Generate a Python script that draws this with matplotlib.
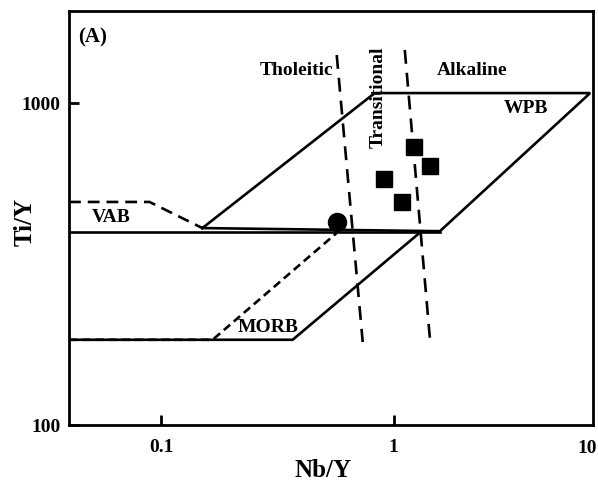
import matplotlib
matplotlib.use('Agg')
import matplotlib.pyplot as plt

plt.rcParams['font.family'] = ['Liberation Serif', 'DejaVu Serif']
plt.rcParams['font.weight'] = 'bold'
plt.rcParams['lines.scale_dashes'] = False

# ---- data (Nb/Y, Ti/Y) ----
wpb_x = [0.150, 1.58, 7.0, 0.828, 0.150]
wpb_y = [409, 400, 1074, 1074, 409]
base_x = [0.04, 1.58]
base_y = [397, 397]
vab_x = [0.04, 0.0888, 0.150]
vab_y = [493, 493, 409]
morb_x = [0.04, 0.367, 1.29]
morb_y = [184, 184, 395]
morb_dash_x = [0.04, 0.166, 0.568]
morb_dash_y = [184, 184, 395]
thol_x = [0.568, 0.735]
thol_y = [1410, 181]
alk_x = [1.115, 1.43]
alk_y = [1462, 186]
sq_x = [1.22, 1.43, 0.906, 1.08]
sq_y = [730, 637, 581, 493]
circ_x = [0.568]
circ_y = [427]

xticks = [0.1, 1]
xticklabels = ['0.1', '1']
yticks = [100, 1000]
yticklabels = ['100', '1000']

fig = plt.figure(figsize=(5.98, 4.83), dpi=100)
ax = fig.add_axes([0.1154, 0.120, 0.8762, 0.857])
ax.set_xscale('log')
ax.set_yscale('log')
ax.set_xlim(0.04, 7.2)
ax.set_ylim(100, 1930)

lw = 1.9
k = 'black'
ax.plot(wpb_x, wpb_y, color=k, lw=lw, solid_joinstyle='miter')
ax.plot(base_x, base_y, color=k, lw=lw)
ax.plot(vab_x, vab_y, color=k, lw=lw, dashes=(8.5, 5))
ax.plot(morb_x, morb_y, color=k, lw=lw)
ax.plot(morb_dash_x, morb_dash_y, color=k, lw=lw, dashes=(6, 3.5))
ax.plot(thol_x, thol_y, color=k, lw=lw, dashes=(10, 6.5))
ax.plot(alk_x, alk_y, color=k, lw=lw, dashes=(10, 6.5))
ax.plot(sq_x, sq_y, 's', color=k, markersize=11.5, linestyle='none')
ax.plot(circ_x, circ_y, 'o', color=k, markersize=13, linestyle='none')

fs = 14
ax.set_xticks(xticks)
ax.set_xticklabels(xticklabels)
ax.set_yticks(yticks)
ax.set_yticklabels(yticklabels)
ax.minorticks_off()
ax.tick_params(direction='in', length=7, width=2, labelsize=fs)
ax.tick_params(axis='x', pad=10)
ax.tick_params(axis='y', pad=6)
ax.text(1.0076, -0.0355, '10', transform=ax.transAxes, ha='right', va='top',
        fontsize=fs, fontweight='bold')
for s in ax.spines.values():
    s.set_linewidth(2)

ax.set_xlabel('Nb/Y', fontsize=18, fontweight='bold')
ax.set_ylabel('Ti/Y', fontsize=18, fontweight='bold')
ax.xaxis.set_label_coords(0.485, -0.083)
ax.yaxis.set_label_coords(-0.062, 0.49)

ax.text(0.017, 0.937, '(A)', transform=ax.transAxes, fontsize=15, fontweight='bold',
        va='center', ha='left')
ax.text(0.382, 1265, 'Tholeitic', fontsize=fs, fontweight='bold', ha='center', va='center')
ax.text(0.853, 1044, 'Transitional', fontsize=fs, fontweight='bold', ha='center',
        va='center', rotation=90)
ax.text(2.17, 1265, 'Alkaline', fontsize=fs, fontweight='bold', ha='center', va='center')
ax.text(3.71, 965, 'WPB', fontsize=fs, fontweight='bold', ha='center', va='center')
ax.text(0.0609, 440, 'VAB', fontsize=fs, fontweight='bold', ha='center', va='center')
ax.text(0.289, 201, 'MORB', fontsize=fs, fontweight='bold', ha='center', va='center')

fig.savefig('out.png', dpi=100)
